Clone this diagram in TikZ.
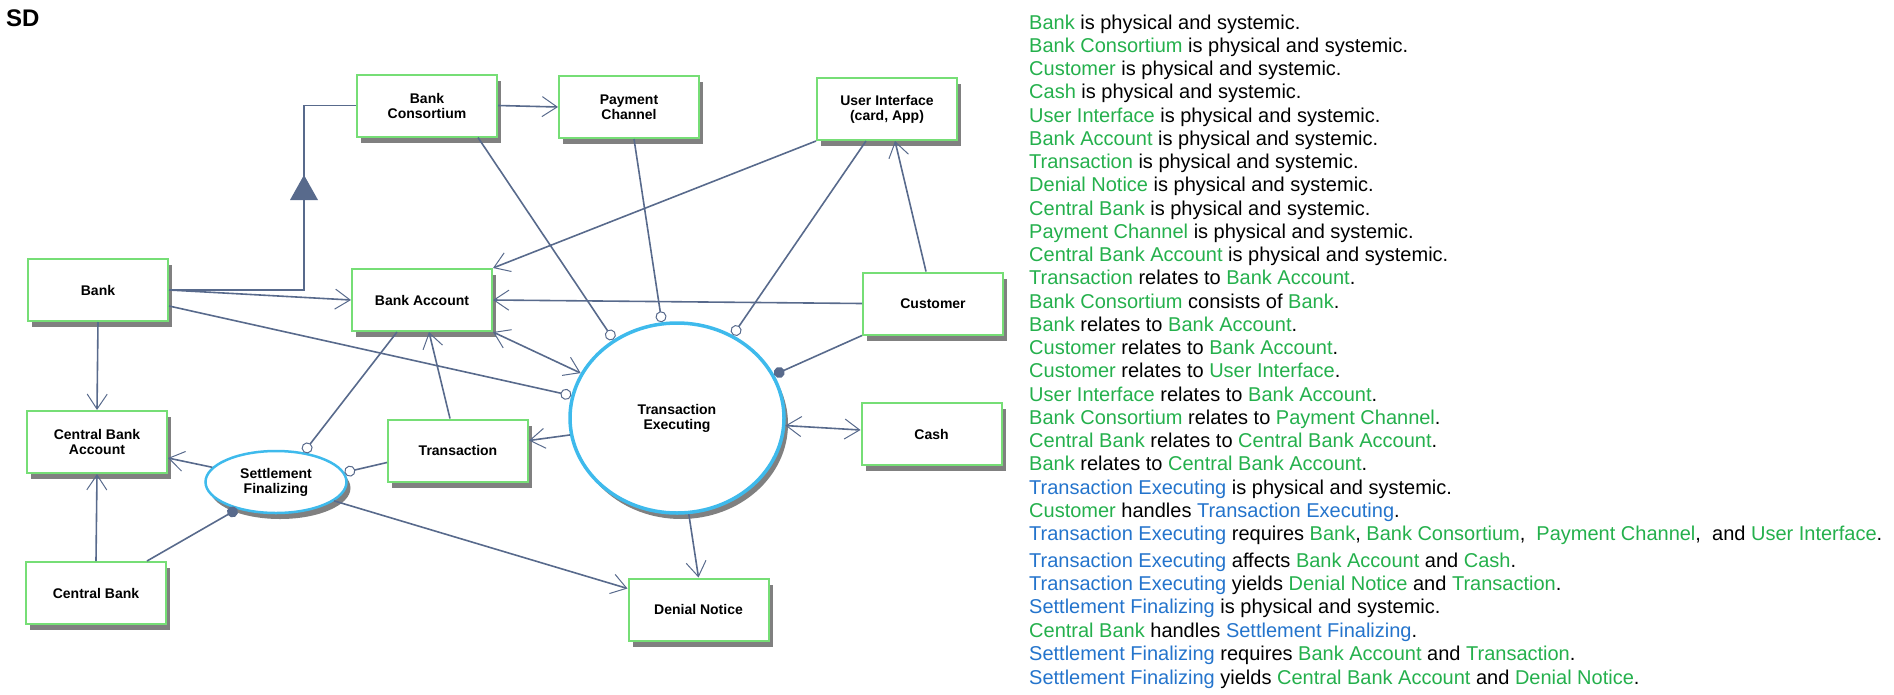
\documentclass[tikz,border=0pt]{standalone}
\usepackage{fontspec}
\setmainfont{Liberation Sans}
\usetikzlibrary{arrows.meta,shapes.geometric,shadows,positioning}

\definecolor{objgreen}{RGB}{118,222,118}
\definecolor{procblue}{RGB}{62,186,236}
\definecolor{linkcol}{RGB}{88,106,140}
\definecolor{shadowgray}{RGB}{128,128,128}
\definecolor{txtgreen}{RGB}{36,176,76}
\definecolor{txtblue}{RGB}{36,116,204}

\newcommand{\objtxt}[1]{\textcolor{txtgreen}{#1}}
\newcommand{\proctxt}[1]{\textcolor{txtblue}{#1}}
\newcommand{\boxfont}{\fontsize{14}{15}\selectfont\bfseries}

\tikzset{
obj/.style={
  draw=objgreen,
  line width=2pt,
  fill=white,
  minimum width=140pt,
  minimum height=62pt,
  inner sep=0pt,
  align=center,
  font=\boxfont,
  general shadow={fill=shadowgray, shadow xshift=4pt, shadow yshift=-6pt}
  },
proc/.style={
  ellipse,
  draw=procblue,
  line width=3.5pt,
  fill=white,
  inner sep=0pt,
  align=center,
  font=\boxfont,
  general shadow={fill=shadowgray, shadow xshift=4pt, shadow yshift=-6pt}
  },
link/.style={linkcol, line width=1.6pt},
res/.style={link, -{Straight Barb[length=15pt, width=20pt, line width=1pt]}},
bires/.style={link, {Straight Barb[length=15pt, width=20pt, line width=1pt]}-{Straight Barb[length=15pt, width=20pt, line width=1pt]}},
instr/.style={link, -{Circle[open, fill=white, length=11pt, line width=1pt]}},
agent/.style={link, -{Circle[length=11pt]}},
stmt/.style={anchor=base west, inner sep=0pt, font=\fontsize{20}{23}\selectfont}
}

\begin{document}
\begin{tikzpicture}[x=1pt, y=-1pt]
\useasboundingbox (0,0) rectangle (1894,694);

\node[anchor=base west, inner sep=0pt, font=\fontsize{24}{24}\selectfont\bfseries] (sd) at (6,26) {SD};

% objects
\node[obj] (bc) at (427,105.5) {Bank\\Consortium};
\node[obj] (pc) at (629,107) {Payment\\Channel};
\node[obj] (ui) at (887,109) {User Interface\\(card, App)};
\node[obj] (bank) at (98,290) {Bank};
\node[obj] (ba) at (422,300) {Bank Account};
\node[obj] (cust) at (933,303.5) {Customer};
\node[obj] (cba) at (97,442) {Central Bank\\Account};
\node[obj] (trans) at (458,450.5) {Transaction};
\node[obj] (cash) at (931.5,434) {Cash};
\node[obj] (cb) at (96,593) {Central Bank};
\node[obj] (dn) at (698.5,609.5) {Denial Notice};

% processes
\node[proc, minimum width=214pt, minimum height=190pt] (te) at (677,418) {Transaction\\Executing};
\node[proc, minimum width=141pt, minimum height=62pt, line width=2.5pt] (sf) at (276,482) {Settlement\\Finalizing};

% aggregation
\coordinate (agg) at (304,187.5);
\draw[link] (bc.west) -| (agg) |- (bank.east);
\fill[linkcol] (agg) ++(0,-12.5) -- ++(14,25) -- ++(-28,0) -- cycle;

% links
\draw[res] (bc.east) -- (pc.west);
\draw[res] (bank.east) -- (ba.west);
\draw[res] (bank.south) -- (cba.north);
\draw[res] (cb.north) -- (cba.south);
\draw[res] (ui.south west) -- (ba.north east);
\draw[res] ([xshift=-7pt]cust.north) -- ([xshift=8pt]ui.south);
\draw[res] (cust.west) -- (ba.east);
\draw[res] ([xshift=-8pt]trans.north) -- ([xshift=7pt]ba.south);

\draw[instr] ([yshift=-16pt]bank.east) -- (te.168);
\draw[instr] ([xshift=51pt]bc.south) -- (te.129);
\draw[instr] ([xshift=5pt]pc.south) -- (te.99);
\draw[instr] ([xshift=-21pt]ui.south) -- (te.56);
\draw[agent] (cust.south west) -- (te.24);
\draw[bires] (ba.south east) -- (te.155);
\draw[bires] (te.-4) -- ([yshift=4pt]cash.west);
\draw[res] (te.-83) -- (dn.north);
\draw[res] (te.189) -- ([yshift=10pt]trans.east);

\draw[instr] ([xshift=-25pt]ba.south) -- (sf.47);
\draw[instr] ([yshift=-12pt]trans.west) -- (sf.8);
\draw[agent] ([xshift=51pt]cb.north) -- (sf.215);
\draw[res] (sf.167) -- ([yshift=-16pt]cba.east);
\draw[res] (sf.-18) -- ([yshift=21pt]dn.west);

% OPL text
\node[stmt] (l1) at (1029,29) {\objtxt{Bank} is physical and systemic.};
\node[stmt] (l2) at (1029,52.25) {\objtxt{Bank Consortium} is physical and systemic.};
\node[stmt] (l3) at (1029,75.5) {\objtxt{Customer} is physical and systemic.};
\node[stmt] (l4) at (1029,98.75) {\objtxt{Cash} is physical and systemic.};
\node[stmt] (l5) at (1029,122) {\objtxt{User Interface} is physical and systemic.};
\node[stmt] (l6) at (1029,145.25) {\objtxt{Bank Account} is physical and systemic.};
\node[stmt] (l7) at (1029,168.5) {\objtxt{Transaction} is physical and systemic.};
\node[stmt] (l8) at (1029,191.75) {\objtxt{Denial Notice} is physical and systemic.};
\node[stmt] (l9) at (1029,215) {\objtxt{Central Bank} is physical and systemic.};
\node[stmt] (l10) at (1029,238.25) {\objtxt{Payment Channel} is physical and systemic.};
\node[stmt] (l11) at (1029,261.5) {\objtxt{Central Bank Account} is physical and systemic.};
\node[stmt] (l12) at (1029,284.75) {\objtxt{Transaction} relates to \objtxt{Bank Account}.};
\node[stmt] (l13) at (1029,308) {\objtxt{Bank Consortium} consists of \objtxt{Bank}.};
\node[stmt] (l14) at (1029,331.25) {\objtxt{Bank} relates to \objtxt{Bank Account}.};
\node[stmt] (l15) at (1029,354.5) {\objtxt{Customer} relates to \objtxt{Bank Account}.};
\node[stmt] (l16) at (1029,377.75) {\objtxt{Customer} relates to \objtxt{User Interface}.};
\node[stmt] (l17) at (1029,401) {\objtxt{User Interface} relates to \objtxt{Bank Account}.};
\node[stmt] (l18) at (1029,424.25) {\objtxt{Bank Consortium} relates to \objtxt{Payment Channel}.};
\node[stmt] (l19) at (1029,447.5) {\objtxt{Central Bank} relates to \objtxt{Central Bank Account}.};
\node[stmt] (l20) at (1029,470.75) {\objtxt{Bank} relates to \objtxt{Central Bank Account}.};
\node[stmt] (l21) at (1029,494) {\proctxt{Transaction Executing} is physical and systemic.};
\node[stmt] (l22) at (1029,517.25) {\objtxt{Customer} handles \proctxt{Transaction Executing}.};
\node[stmt] (l23) at (1029,540.5) {\proctxt{Transaction Executing} requires \objtxt{Bank}, \objtxt{Bank Consortium},\ \ \objtxt{Payment Channel},\ \ and \objtxt{User Interface}.};
\node[stmt] (l24) at (1029,567) {\proctxt{Transaction Executing} affects \objtxt{Bank Account} and \objtxt{Cash}.};
\node[stmt] (l25) at (1029,590.4) {\proctxt{Transaction Executing} yields \objtxt{Denial Notice} and \objtxt{Transaction}.};
\node[stmt] (l26) at (1029,613.8) {\proctxt{Settlement Finalizing} is physical and systemic.};
\node[stmt] (l27) at (1029,637.2) {\objtxt{Central Bank} handles \proctxt{Settlement Finalizing}.};
\node[stmt] (l28) at (1029,660.6) {\proctxt{Settlement Finalizing} requires \objtxt{Bank Account} and \objtxt{Transaction}.};
\node[stmt] (l29) at (1029,684) {\proctxt{Settlement Finalizing} yields \objtxt{Central Bank Account} and \objtxt{Denial Notice}.};
\end{tikzpicture}
\end{document}
